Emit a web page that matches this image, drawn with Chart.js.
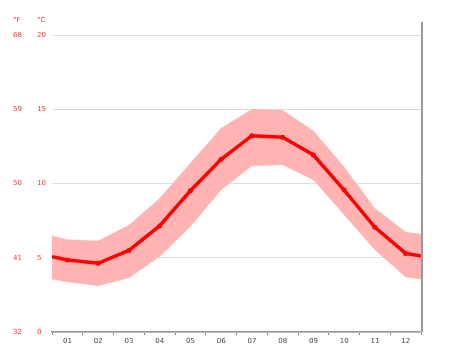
<!DOCTYPE html>
<html><head><meta charset="utf-8">
<script src="https://cdn.jsdelivr.net/npm/chart.js@4.4.0/dist/chart.umd.min.js"></script>
<style>html,body{margin:0;padding:0;background:#fff;overflow:hidden}#wrap{width:474px;height:355px}</style>
</head><body><div id="wrap"><canvas id="c" width="474" height="355"></canvas></div>
<script>
const monthLabels = ['01','02','03','04','05','06','07','08','09','10','11','12'];
const xPositions = [0.5, 1, 2, 3, 4, 5, 6, 7, 8, 9, 10, 11, 12, 12.5];
const tempMean = [5.07, 4.85, 4.63, 5.49, 7.14, 9.51, 11.63, 13.22, 13.11, 11.92, 9.56, 7.05, 5.29, 5.12];
const tempMax  = [6.48, 6.23, 6.15, 7.20, 9.00, 11.38, 13.74, 15.02, 14.95, 13.56, 11.13, 8.33, 6.75, 6.60];
const tempMin  = [3.55, 3.37, 3.10, 3.64, 5.07, 7.09, 9.56, 11.18, 11.25, 10.24, 7.88, 5.52, 3.68, 3.55];
const celsiusTicks = [0, 5, 10, 15, 20];
const fahrenheitTicks = [32, 41, 50, 59, 68];

const RED = '#ff0000';
const LABEL_RED = '#e33b3b';
const FONT = 'DejaVu Sans';

const pts = arr => arr.map((v, i) => ({x: xPositions[i], y: v}));

const decor = {
  id: 'decor',
  afterDraw(chart) {
    const ctx = chart.ctx, a = chart.chartArea;
    ctx.save();
    ctx.strokeStyle = '#999';
    ctx.lineWidth = 2;
    ctx.beginPath();
    ctx.moveTo(a.right + 1, a.top - 13);
    ctx.lineTo(a.right + 1, a.bottom);
    ctx.stroke();
    ctx.fillStyle = LABEL_RED;
    ctx.font = '7px "' + FONT + '"';
    ctx.textBaseline = 'middle';
    ctx.textAlign = 'left';
    ctx.fillText('°F', chart.scales.yF.left, a.top - 15);
    ctx.fillText('°C', chart.scales.yC.left, a.top - 15);
    ctx.restore();
  }
};

new Chart(document.getElementById('c'), {
  type: 'line',
  data: {
    datasets: [
      {
        label: 'mean',
        data: pts(tempMean),
        yAxisID: 'yC',
        borderColor: RED,
        backgroundColor: RED,
        borderWidth: 3.5,
        pointRadius: ctx => (xPositions[ctx.dataIndex] % 1 === 0 ? 2.5 : 0),
        pointBorderWidth: 0,
        pointBackgroundColor: RED,
        tension: 0,
        fill: false
      },
      {
        label: 'max',
        data: pts(tempMax),
        yAxisID: 'yC',
        borderWidth: 0,
        borderColor: 'rgba(0,0,0,0)',
        pointRadius: 0,
        backgroundColor: '#ffb3b3',
        fill: '+1',
        tension: 0
      },
      {
        label: 'min',
        data: pts(tempMin),
        yAxisID: 'yC',
        borderWidth: 0,
        borderColor: 'rgba(0,0,0,0)',
        pointRadius: 0,
        fill: false,
        tension: 0
      }
    ]
  },
  options: {
    responsive: false,
    animation: false,
    events: [],
    layout: {padding: {left: 13, right: 53, top: 35, bottom: 0}},
    plugins: {legend: {display: false}, tooltip: {enabled: false}},
    scales: {
      x: {
        type: 'linear',
        min: 0.5,
        max: 12.5,
        afterBuildTicks: s => {
          const t = [];
          for (let v = 0.5; v <= 12.5; v += 0.5) t.push({value: v});
          s.ticks = t;
        },
        afterFit: s => { s.height = 23; },
        ticks: {
          autoSkip: false,
          maxRotation: 0,
          padding: 2,
          color: '#444',
          font: {family: FONT, size: 7},
          callback: v => (v % 1 === 0 ? monthLabels[v - 1] : '')
        },
        grid: {
          drawOnChartArea: false,
          drawTicks: true,
          tickLength: 3,
          tickColor: ctx => (ctx.tick && ctx.tick.value % 1 !== 0 ? '#888' : 'rgba(0,0,0,0)')
        },
        border: {display: true, color: '#999', width: 1.5}
      },
      yC: {
        type: 'linear',
        position: 'left',
        min: 0,
        max: 20,
        afterBuildTicks: s => { s.ticks = celsiusTicks.map(v => ({value: v})); },
        afterFit: s => { s.width = 15; },
        ticks: {color: LABEL_RED, font: {family: FONT, size: 7}, crossAlign: 'far', padding: 0},
        grid: {drawTicks: false, color: '#dddddd', lineWidth: 1},
        border: {display: false}
      },
      yF: {
        type: 'linear',
        position: 'left',
        min: 32,
        max: 68,
        afterBuildTicks: s => { s.ticks = fahrenheitTicks.map(v => ({value: v})); },
        afterFit: s => { s.width = 24; },
        ticks: {color: LABEL_RED, font: {family: FONT, size: 7}, crossAlign: 'far', padding: 0},
        grid: {display: false, drawTicks: false},
        border: {display: false}
      }
    }
  },
  plugins: [decor]
});
</script>
</body></html>
